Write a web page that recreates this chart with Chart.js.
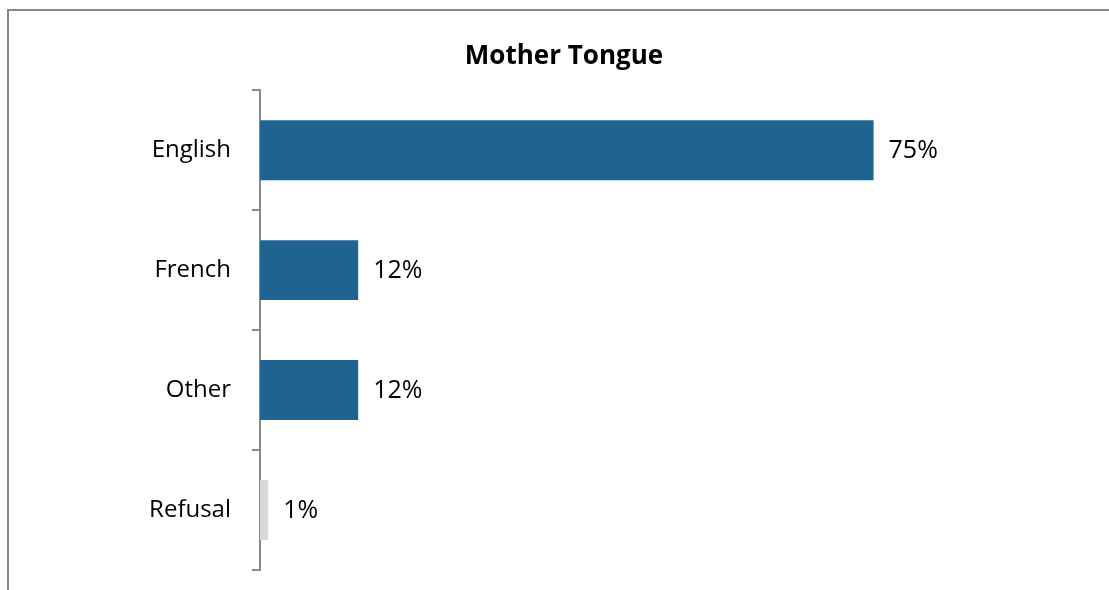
<!DOCTYPE html>
<html>
<head>
<meta charset="utf-8">
<script src="https://cdn.jsdelivr.net/npm/chart.js@4.4.1/dist/chart.umd.min.js"></script>
<style>
  html, body { margin: 0; padding: 0; background: #fff; overflow: hidden; width: 1109px; height: 590px; }
  .frame { position: absolute; left: 7px; top: 9px; width: 1110px; height: 600px; border: 2px solid #878787; background: #fff; }
  .frame canvas { display: block; }
</style>
</head>
<body>
<div class="frame"><canvas id="chart" width="1110" height="600"></canvas></div>
<script>
// Mother tongue of respondents, share in percent
const categories = ['English', 'French', 'Other', 'Refusal'];
const shares = [75, 12, 12, 1];
const chartTitle = 'Mother Tongue';

const FONT = '"Open Sans", "Noto Sans", sans-serif';
const BLUE = '#1F6391';
const GREY = '#D9D9D9';
const AXIS = '#8a8a8a';

// Writes the percentage just past the end of each bar
const valueLabels = {
  id: 'valueLabels',
  afterDatasetsDraw(chart) {
    const ctx = chart.ctx;
    const meta = chart.getDatasetMeta(0);
    ctx.save();
    ctx.font = '25px ' + FONT;
    ctx.fillStyle = '#000';
    ctx.textAlign = 'left';
    ctx.textBaseline = 'middle';
    meta.data.forEach((bar, i) => {
      ctx.fillText(shares[i] + '%', bar.x + 15, bar.y + 1);
    });
    ctx.restore();
  }
};

new Chart(document.getElementById('chart'), {
  type: 'bar',
  data: {
    labels: categories,
    datasets: [{
      data: shares,
      backgroundColor: ctx => categories[ctx.dataIndex] === 'Refusal' ? GREY : BLUE,
      borderWidth: 0,
      categoryPercentage: 0.5,
      barPercentage: 1.0
    }]
  },
  options: {
    indexAxis: 'y',
    responsive: false,
    animation: false,
    events: [],
    layout: { padding: { top: 0, right: 0, bottom: 41, left: 0 } },
    plugins: {
      legend: { display: false },
      tooltip: { enabled: false },
      title: {
        display: true,
        text: chartTitle,
        color: '#000',
        font: { family: FONT, size: 26, weight: 'bold' },
        padding: { top: 30, bottom: 18 }
      }
    },
    scales: {
      x: {
        display: false,
        min: 0,
        max: 105
      },
      y: {
        type: 'category',
        afterFit(scale) { scale.width = 251; },
        grid: {
          offset: true,
          drawOnChartArea: false,
          drawTicks: true,
          tickLength: 8,
          color: AXIS,
          lineWidth: 2
        },
        border: { display: true, color: AXIS, width: 2 },
        ticks: {
          color: '#000',
          padding: 21,
          font: { family: FONT, size: 24 }
        }
      }
    }
  },
  plugins: [valueLabels]
});
</script>
</body>
</html>
